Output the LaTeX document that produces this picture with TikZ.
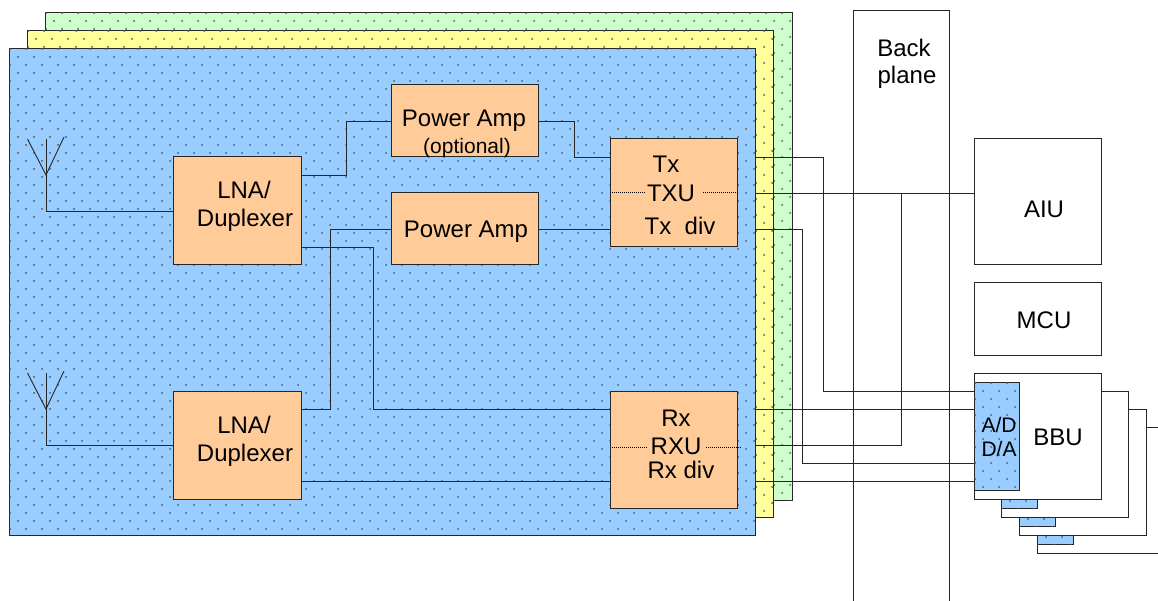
\documentclass[tikz,border=0pt]{standalone}
\usepackage{fontspec}
\setmainfont{Liberation Sans}
\definecolor{cblue}{HTML}{99CCFF}
\definecolor{cyellow}{HTML}{FFFF99}
\definecolor{cgreen}{HTML}{CCFFCC}
\definecolor{corange}{HTML}{FFCC99}
\newcommand{\dotgrid}[6]{% x0 y0 x1 y1 ox oy
  \begin{scope}
    \clip (#1,#2) rectangle (#3,#4);
    \pgfmathtruncatemacro{\nr}{(#4-#2)/8+3}
    \foreach \r in {0,...,\nr}{
      \pgfmathsetmacro{\yy}{#6+8*(\r-2)}
      \pgfmathsetmacro{\xs}{#5-16+8*mod(\r,2)}
      \draw[dotrow] (\xs,\yy) -- (#3+2,\yy);
    }
  \end{scope}
}
\tikzset{
  dotrow/.style={line width=2pt,line cap=round,dash pattern=on 0.01pt off 15.99pt,draw=black!65},
  block/.style={draw=black!85,line width=1pt,inner sep=0pt,outer sep=0pt,anchor=north west},
  panelblue/.style={block,fill=cblue},
  panelyellow/.style={block,fill=cyellow},
  panelgreen/.style={block,fill=cgreen},
  amp/.style={block,fill=corange},
  plain/.style={block,fill=white},
  hollow/.style={block},
  wire/.style={line width=0.9pt,draw=black!85},
  thinwire/.style={line width=1pt,draw=black,densely dotted},
  lab/.style={inner sep=0pt,outer sep=0pt,anchor=base,font=\fontsize{24}{24}\selectfont},
  labsmall/.style={lab,font=\fontsize{21}{21}\selectfont},
}
\begin{document}
\begin{tikzpicture}[x=1pt,y=-1pt]
\clip (0,0) rectangle (1158,601);
% stacked panels
\node[panelgreen,minimum width=746.5pt,minimum height=487pt] (green) at (45.5,13) {};
\dotgrid{45.5}{13}{792}{500}{54}{21}
\node[panelyellow,minimum width=745.5pt,minimum height=486pt] (yellow) at (27.5,31) {};
\dotgrid{27.5}{31}{773}{517}{36}{39}
\node[panelblue,minimum width=745.5pt,minimum height=486.5pt] (blue) at (9.5,48.5) {};
\dotgrid{9.5}{48.5}{755}{535}{18}{57}
% blocks
\node[amp,minimum width=127.5pt,minimum height=108pt] (lnaa) at (173.5,157) {};
\node[amp,minimum width=127.5pt,minimum height=108pt] (lnab) at (173.5,391) {};
\node[amp,minimum width=147pt,minimum height=72pt] (pa) at (391,85) {};
\node[amp,minimum width=147pt,minimum height=72pt] (pb) at (391,193) {};
\node[amp,minimum width=127.5pt,minimum height=108pt] (txu) at (610,139) {};
\node[amp,minimum width=127.5pt,minimum height=117pt] (rxu) at (610,391) {};
% right-hand units
\node[hollow,minimum width=96pt,minimum height=600pt] (back) at (853,11) {};
\node[plain,minimum width=127pt,minimum height=126pt] (aiu) at (974,139) {};
\node[plain,minimum width=127pt,minimum height=72pt] (mcu) at (974,283) {};
\node[plain,minimum width=180pt,minimum height=126pt] (bbud) at (1037,427) {};
\node[plain,minimum width=127.5pt,minimum height=126pt] (bbuc) at (1019,409) {};
\node[plain,minimum width=127pt,minimum height=126pt] (bbub) at (1001,391) {};
\node[panelblue,minimum width=36pt,minimum height=9pt] (adc) at (1037,535) {};
\dotgrid{1037}{535}{1073}{544}{1046}{537}
\node[panelblue,minimum width=36pt,minimum height=9pt] (adb) at (1019,517) {};
\dotgrid{1019}{517}{1055}{526}{1028}{519}
\node[panelblue,minimum width=36pt,minimum height=9pt] (ada) at (1001,499) {};
\dotgrid{1001}{499}{1037}{508}{1010}{501}
\node[plain,minimum width=127pt,minimum height=126pt] (bbu) at (974,373) {};
\node[panelblue,minimum width=45pt,minimum height=107.5pt] (adm) at (974,382.5) {};
\dotgrid{974}{382.5}{1019}{490}{983}{391}
% antennas
\coordinate (anta) at (46,175);
\coordinate (antat) at (46,139);
\coordinate (antal) at (27.5,139);
\coordinate (antar) at (64,137);
\coordinate (antb) at (46,409);
\coordinate (antbt) at (46,373);
\coordinate (antbl) at (27.5,373);
\coordinate (antbr) at (64,371);
\coordinate (junction) at (901,193);
\draw[wire] (antal) -- (anta) -- (antar);
\draw[wire] (antbl) -- (antb) -- (antbr);
\draw[wire] (antat) |- ([yshift=-54pt]lnaa.north west);
\draw[wire] (antbt) |- ([yshift=-54pt]lnab.north west);
% internal wires
\draw[wire] ([yshift=-18pt]lnaa.north east) -- ++(45,0) |- (pa.west);
\draw[wire] ([yshift=-90pt]lnaa.north east) -- ++(72,0) |- ([yshift=-18pt]rxu.north west);
\draw[wire] ([yshift=-18pt]lnab.north east) -- ++(29,0) |- (pb.west);
\draw[wire] ([yshift=-90pt]lnab.north east) -- ([yshift=-90pt]rxu.north west);
\draw[wire] (pa.east) -- ++(36,0) |- ([yshift=-18pt]txu.north west);
\draw[wire] (pb.east) -- ([yshift=-90pt]txu.north west);
% dotted dividers
\draw[thinwire] ([yshift=-54pt]txu.north west) -- ++(36,0);
\draw[thinwire] ([yshift=-54pt]txu.north east) -- ++(-36,0);
\draw[thinwire] ([yshift=-56.5pt,xshift=2pt]rxu.north west) -- ++(36,0);
\draw[thinwire] ([yshift=-56.5pt,xshift=3pt]rxu.north east) -- ++(-36,0);
% external wires
\draw[wire] ([yshift=-108.5pt]blue.north east) -- ++(68,0) |- ([yshift=-18pt]bbu.north west);
\draw[wire] ([yshift=-144.5pt]blue.north east) -- ([yshift=-54pt]aiu.north west);
\draw[wire] ([yshift=-180.5pt]blue.north east) -- ++(47,0) |- ([yshift=-90pt]bbu.north west);
\draw[wire] ([yshift=-360.5pt]blue.north east) -- ([yshift=-36pt]bbu.north west);
\draw[wire] ([yshift=-396.5pt]blue.north east) -| (junction);
\draw[wire] ([yshift=-432.5pt]blue.north east) -- ([yshift=-108pt]bbu.north west);
% text
\node[lab] (t1) at (244,199) {LNA/};
\node[lab] (t2) at (245,227) {Duplexer};
\node[lab] (t3) at (244,433) {LNA/};
\node[lab] (t4) at (245,461) {Duplexer};
\node[lab] (t5) at (464,127) {Power Amp};
\node[labsmall] (t6) at (467,154) {(optional)};
\node[lab] (t7) at (466,238) {Power Amp};
\node[lab] (t8) at (666,172.5) {Tx};
\node[lab] (t9) at (671,201.5) {TXU};
\node[lab] (t10) at (680,235) {Tx\ \ div};
\node[lab] (t11) at (676,426.5) {Rx};
\node[lab] (t12) at (676,454) {RXU};
\node[lab] (t13) at (681,478) {Rx div};
\node[lab] (t14) at (904,57) {Back};
\node[lab] (t15) at (907,84) {plane};
\node[lab] (t16) at (1044,218) {AIU};
\node[lab] (t17) at (1044,328) {MCU};
\node[lab] (t18) at (1058,445) {BBU};
\node[labsmall] (t19) at (999,432.5) {A/D};
\node[labsmall] (t20) at (999,456.5) {D/A};
\end{tikzpicture}
\end{document}
